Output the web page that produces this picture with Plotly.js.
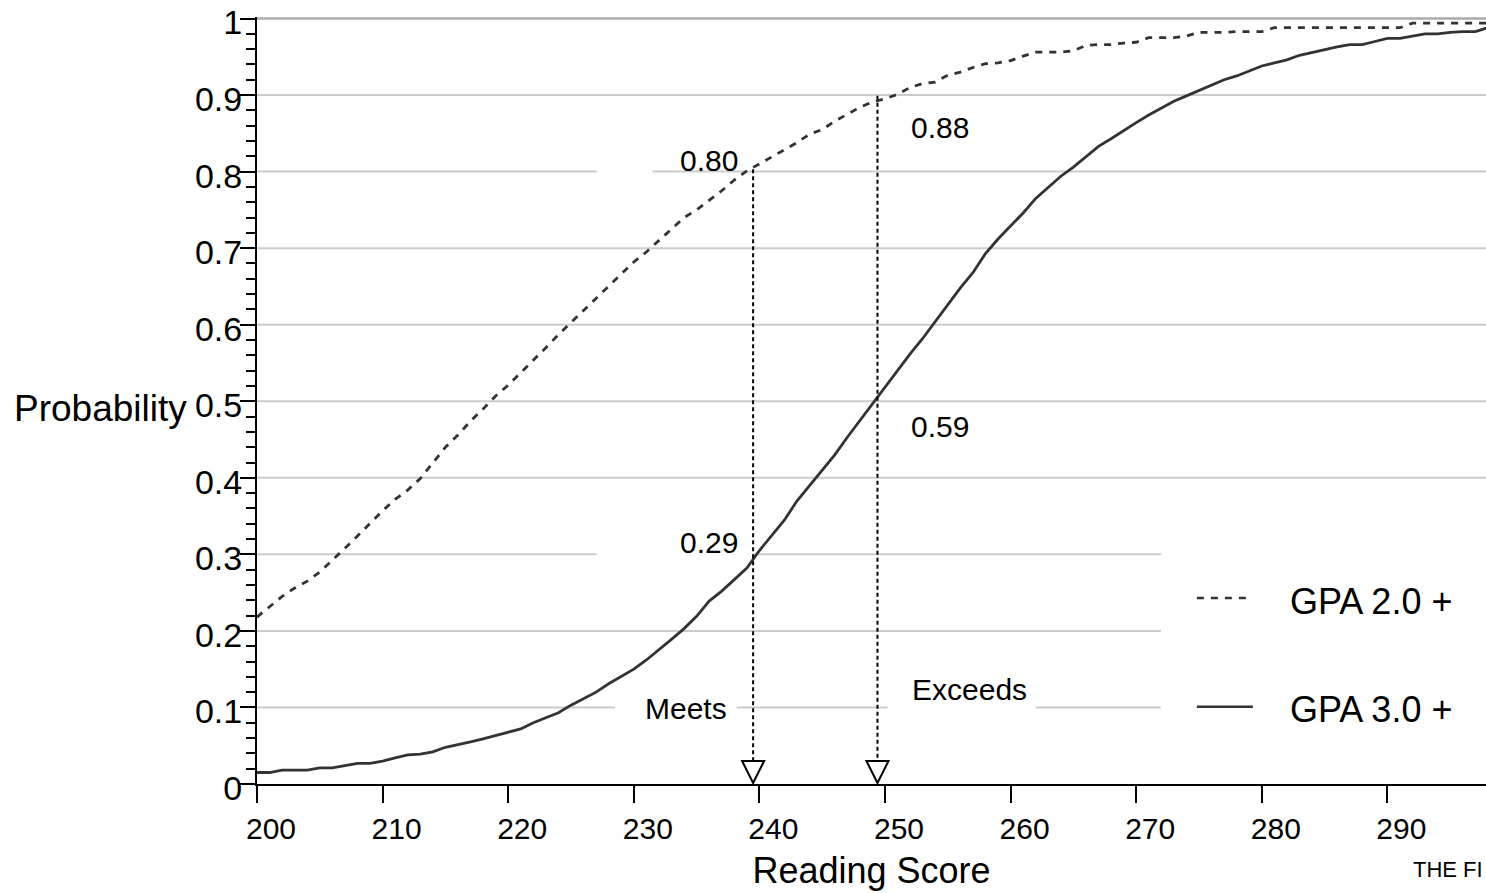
<!DOCTYPE html>
<html><head><meta charset="utf-8">
<script src="https://cdn.plot.ly/plotly-3.0.1.min.js"></script>
<style>html,body{margin:0;padding:0;background:#fff;} #chart{width:1486px;height:893px;}</style>
</head><body><div id="chart"></div>
<script>
// Reading scores (x)
const scores = [200,201,202,203,204,205,206,207,208,209,
  210,211,212,213,214,215,216,217,218,219,
  220,221,222,223,224,225,226,227,228,229,
  230,231,232,233,234,235,236,237,238,239,
  240,241,242,243,244,245,246,247,248,249,
  250,251,252,253,254,255,256,257,258,259,
  260,261,262,263,264,265,266,267,268,269,
  270,271,272,273,274,275,276,277,278,279,
  280,281,282,283,284,285,286,287,288,289,
  290,291,292,293,294,295,296,297,298];
// Probability of GPA 2.0 +
const gpa2 = [0.218,0.232,0.245,0.256,0.265,0.277,0.292,0.308,0.324,0.341,
  0.357,0.372,0.384,0.399,0.420,0.440,0.456,0.474,0.490,0.507,
  0.521,0.537,0.553,0.570,0.587,0.603,0.619,0.635,0.650,0.667,
  0.682,0.695,0.710,0.725,0.740,0.750,0.762,0.775,0.789,0.801,
  0.810,0.819,0.829,0.838,0.849,0.855,0.866,0.875,0.884,0.891,
  0.895,0.901,0.910,0.915,0.917,0.926,0.930,0.936,0.941,0.942,
  0.945,0.951,0.956,0.956,0.956,0.958,0.965,0.966,0.966,0.968,
  0.969,0.975,0.975,0.975,0.977,0.982,0.982,0.982,0.983,0.983,
  0.983,0.988,0.988,0.988,0.988,0.988,0.988,0.988,0.988,0.988,
  0.988,0.988,0.994,0.994,0.994,0.994,0.994,0.994,0.994];
// Probability of GPA 3.0 +
const gpa3 = [0.015,0.015,0.018,0.018,0.018,0.021,0.021,0.024,0.027,0.027,
  0.030,0.034,0.038,0.039,0.042,0.048,0.051,0.055,0.059,0.063,
  0.068,0.072,0.080,0.087,0.093,0.103,0.111,0.120,0.131,0.141,
  0.150,0.162,0.175,0.189,0.203,0.219,0.239,0.252,0.267,0.282,
  0.305,0.325,0.345,0.370,0.390,0.410,0.430,0.453,0.475,0.496,
  0.518,0.540,0.562,0.582,0.604,0.626,0.648,0.668,0.693,0.712,
  0.729,0.746,0.765,0.780,0.794,0.806,0.820,0.833,0.843,0.854,
  0.864,0.874,0.883,0.892,0.899,0.906,0.914,0.920,0.925,0.931,
  0.938,0.942,0.946,0.952,0.956,0.960,0.963,0.966,0.966,0.970,
  0.974,0.974,0.977,0.980,0.980,0.982,0.983,0.983,0.988];
// Cut scores (Meets / Exceeds)
const cutNames = ['Meets', 'Exceeds'];
const cutScores = [239.5, 249.4];
const cutTops = [0.803, 0.899];
const cutLabelsUpper = ['0.80', '0.88'];
const cutLabelsLower = ['0.29', '0.59'];
const seriesNames = ['GPA 2.0 +', 'GPA 3.0 +'];
const xTickVals = [200,210,220,230,240,250,260,270,280,290];
const xTickText = ['200','210','220','230','240','250','260','270','280','290'];
const yTickVals = [0,0.1,0.2,0.3,0.4,0.5,0.6,0.7,0.8,0.9,1];
const yTickText = ['0','0.1','0.2','0.3','0.4','0.5','0.6','0.7','0.8','0.9','1'];

const FONT = 'Liberation Sans, Arial, Helvetica, sans-serif';
const XMAX = 297.85;
const YMAX = 1.002;
const lineColor = '#333333';

const traces = [
  {x: scores, y: gpa2, type: 'scatter', mode: 'lines', name: seriesNames[0],
   line: {color: lineColor, width: 2.8, dash: '7px,7px'}, hoverinfo: 'skip'},
  {x: scores, y: gpa3, type: 'scatter', mode: 'lines', name: seriesNames[1],
   line: {color: lineColor, width: 2.8}, hoverinfo: 'skip'}
];
cutScores.forEach(function(c, i) {
  traces.push({x: [c, c], y: [cutTops[i], 0.02], type: 'scatter', mode: 'lines',
    name: cutNames[i], showlegend: false, hoverinfo: 'skip',
    line: {color: '#000', width: 2, dash: '4px,3px'}});
});

// gridline segments (partial, as in the original)
const gridColor = '#cccccc';
const gridSegs = [
  [0.1, 200, 228.5], [0.1, 238.2, 250.2], [0.1, 262.0, 271.96],
  [0.2, 200, 271.96],
  [0.3, 200, 227.05], [0.3, 239.47, 271.96],
  [0.4, 200, XMAX], [0.5, 200, XMAX], [0.6, 200, XMAX], [0.7, 200, XMAX],
  [0.8, 200, 227.05], [0.8, 231.5, XMAX],
  [0.9, 200, XMAX]
];
const shapes = gridSegs.map(function(s) {
  return {type: 'line', xref: 'x', yref: 'y', x0: s[1], x1: s[2], y0: s[0], y1: s[0],
    layer: 'below', line: {color: gridColor, width: 2}};
});
shapes.push({type: 'line', xref: 'x', yref: 'y', x0: 200, x1: XMAX, y0: 1, y1: 1,
  layer: 'below', line: {color: '#ababab', width: 2.5}});
// open arrowheads at cut scores
cutScores.forEach(function(c) {
  shapes.push({type: 'path', xref: 'x', yref: 'y', xsizemode: 'pixel', ysizemode: 'pixel',
    xanchor: c, yanchor: 0, layer: 'above',
    path: 'M 0 1 L -11 23 L 11 23 Z', fillcolor: '#ffffff', line: {color: '#000', width: 2}});
});
// legend samples
shapes.push({type: 'line', xref: 'x', yref: 'y', x0: 274.83, x1: 279.29, y0: 0.243, y1: 0.243,
  layer: 'above', line: {color: lineColor, width: 2.6, dash: '7px,7px'}});
shapes.push({type: 'line', xref: 'x', yref: 'y', x0: 274.83, x1: 279.29, y0: 0.101, y1: 0.101,
  layer: 'above', line: {color: lineColor, width: 2.6}});

const annFont = {family: FONT, size: 30, color: '#000'};
const annotations = [
  {x: 238.43, y: 0.814, xref: 'x', yref: 'y', text: cutLabelsUpper[0], showarrow: false, xanchor: 'right', yanchor: 'middle', font: annFont},
  {x: 251.89, y: 0.858, xref: 'x', yref: 'y', text: cutLabelsUpper[1], showarrow: false, xanchor: 'left', yanchor: 'middle', font: annFont},
  {x: 238.43, y: 0.315, xref: 'x', yref: 'y', text: cutLabelsLower[0], showarrow: false, xanchor: 'right', yanchor: 'middle', font: annFont},
  {x: 251.89, y: 0.467, xref: 'x', yref: 'y', text: cutLabelsLower[1], showarrow: false, xanchor: 'left', yanchor: 'middle', font: annFont},
  {x: 230.75, y: 0.0985, xref: 'x', yref: 'y', text: cutNames[0], showarrow: false, xanchor: 'left', yanchor: 'middle', font: annFont},
  {x: 252.0, y: 0.123, xref: 'x', yref: 'y', text: cutNames[1], showarrow: false, xanchor: 'left', yanchor: 'middle', font: annFont},
  {x: 282.05, y: 0.239, xref: 'x', yref: 'y', text: seriesNames[0], showarrow: false, xanchor: 'left', yanchor: 'middle', font: {family: FONT, size: 36, color: '#000'}},
  {x: 282.05, y: 0.0974, xref: 'x', yref: 'y', text: seriesNames[1], showarrow: false, xanchor: 'left', yanchor: 'middle', font: {family: FONT, size: 36, color: '#000'}},
  {x: -0.199, y: 0.49, xref: 'paper', yref: 'paper', text: 'Probability', showarrow: false, xanchor: 'left', yanchor: 'middle', font: {family: FONT, size: 37, color: '#000'}},
  {x: 291.85, y: -0.112, xref: 'x', yref: 'paper', text: 'THE FI', showarrow: false, xanchor: 'left', yanchor: 'middle', font: {family: FONT, size: 22, color: '#000'}}
];

const layout = {
  width: 1486, height: 893,
  margin: {l: 257, r: 0, t: 17, b: 109, pad: 0},
  paper_bgcolor: '#fff', plot_bgcolor: '#fff',
  showlegend: false,
  font: {family: FONT, color: '#000'},
  xaxis: {
    range: [200, XMAX], showgrid: false, zeroline: false,
    showline: true, linecolor: '#000', linewidth: 2,
    ticks: 'outside', ticklen: 17, tickwidth: 2, tickcolor: '#000',
    tickvals: xTickVals, ticktext: xTickText, ticklabelshift: 14,
    tickfont: {family: FONT, size: 30, color: '#000'},
    title: {text: 'Reading Score', font: {family: FONT, size: 36, color: '#000'}, standoff: 14},
    automargin: false
  },
  yaxis: {
    range: [0, YMAX], showgrid: false, zeroline: false,
    showline: true, linecolor: '#000', linewidth: 2,
    ticks: 'outside', ticklen: 15, tickwidth: 2, tickcolor: '#000',
    tickvals: yTickVals, ticktext: yTickText, ticklabeloverflow: 'allow',
    ticklabelstandoff: -9, ticklabelshift: 4,
    tickfont: {family: FONT, size: 34, color: '#000'},
    minor: {dtick: 0.02, ticks: 'outside', ticklen: 9, tickwidth: 2, tickcolor: '#000', showgrid: false},
    automargin: false
  },
  shapes: shapes,
  annotations: annotations
};

Plotly.newPlot('chart', traces, layout, {displayModeBar: false, staticPlot: true});
</script>
</body></html>
